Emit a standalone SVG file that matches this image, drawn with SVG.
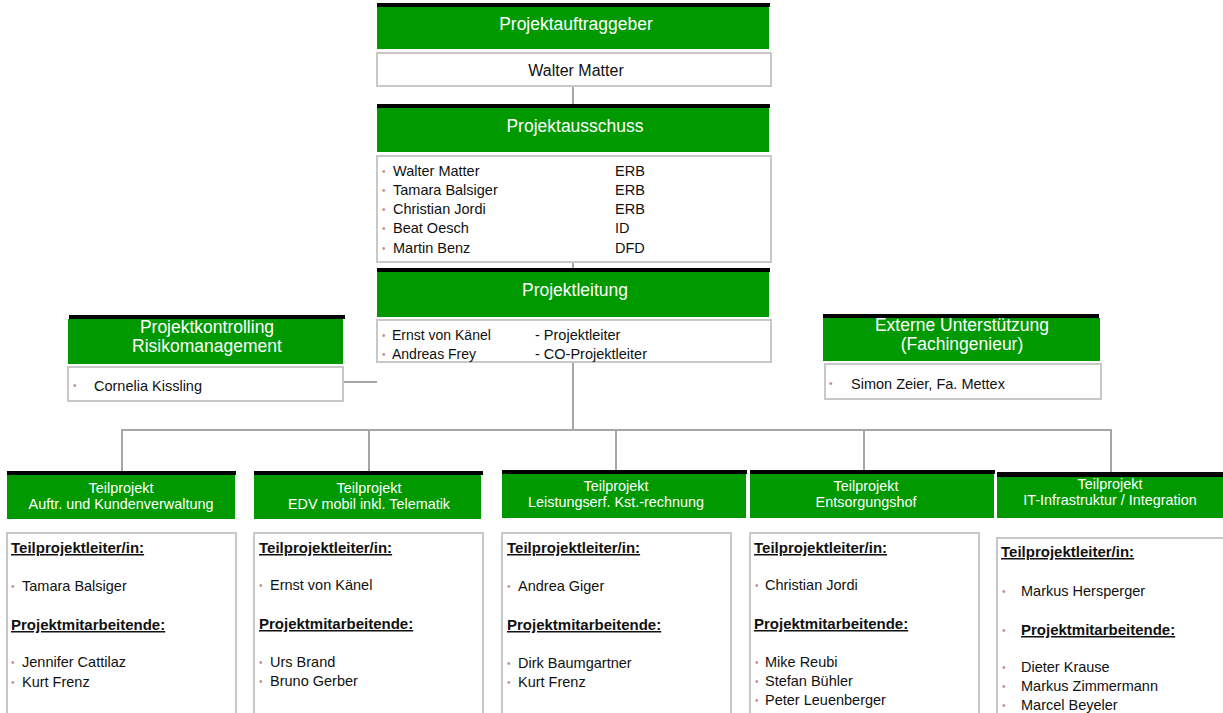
<svg xmlns="http://www.w3.org/2000/svg" width="1223" height="713" viewBox="0 0 1223 713">
<style>
.bar{fill:#000}
.hd{fill:#009900}
.bx{fill:#fff;stroke:#c8c8c8;stroke-width:2}
.ht{font-family:"Liberation Sans",Arial,sans-serif;font-size:17.5px;fill:#fff;text-anchor:middle}
.st{font-family:"Liberation Sans",Arial,sans-serif;font-size:14.4px;fill:#fff;text-anchor:middle}
.t{font-family:"Liberation Sans",Arial,sans-serif;font-size:14.5px;fill:#111}
.b{font-family:"Liberation Sans",Arial,sans-serif;font-size:15px;font-weight:bold;fill:#111;text-decoration:underline}
.bu{font-family:"Liberation Sans",Arial,sans-serif;font-size:10px;fill:#c09090}
.c{fill:none;stroke:#a6a6a6;stroke-width:2}
</style>
<g id="connectors">
<line class="c" x1="573" y1="86" x2="573" y2="104"/>
<line class="c" x1="573" y1="262" x2="573" y2="268"/>
<line class="c" x1="573" y1="362" x2="573" y2="430"/>
<line class="c" x1="343" y1="382" x2="377" y2="382"/>
<polyline class="c" points="122,471 122,430 1111,430 1111,475"/>
<line class="c" x1="369" y1="430" x2="369" y2="471"/>
<line class="c" x1="616" y1="430" x2="616" y2="471"/>
<line class="c" x1="864" y1="430" x2="864" y2="471"/>
</g>
<g id="auftraggeber">
<rect class="bar" x="377" y="3" width="393" height="4"/>
<rect class="hd" x="377" y="7" width="392" height="42"/>
<text class="ht" x="576" y="30">Projektauftraggeber</text>
<rect class="bx" x="377" y="53" width="394" height="33"/>
<text class="t" x="576" y="76" text-anchor="middle" style="font-size:16px">Walter Matter</text>
</g>
<g id="ausschuss">
<rect class="bar" x="377" y="104" width="393" height="4"/>
<rect class="hd" x="377" y="108" width="392" height="44"/>
<text class="ht" x="575" y="132">Projektausschuss</text>
<rect class="bx" x="377" y="156" width="394" height="106"/>
<text class="bu" x="382" y="175">•</text><text class="t" x="393" y="176">Walter Matter</text><text class="t" x="615" y="176">ERB</text>
<text class="bu" x="382" y="194">•</text><text class="t" x="393" y="195">Tamara Balsiger</text><text class="t" x="615" y="195">ERB</text>
<text class="bu" x="382" y="213">•</text><text class="t" x="393" y="214">Christian Jordi</text><text class="t" x="615" y="214">ERB</text>
<text class="bu" x="382" y="232">•</text><text class="t" x="393" y="233">Beat Oesch</text><text class="t" x="615" y="233">ID</text>
<text class="bu" x="382" y="252">•</text><text class="t" x="393" y="253">Martin Benz</text><text class="t" x="615" y="253">DFD</text>
</g>
<g id="projektleitung">
<rect class="bar" x="377" y="268" width="393" height="4"/>
<rect class="hd" x="377" y="272" width="392" height="45"/>
<text class="ht" x="575" y="296">Projektleitung</text>
<rect class="bx" x="377" y="320" width="394" height="42"/>
<text class="bu" x="382" y="339">•</text><text class="t" x="392" y="340" style="font-size:14px">Ernst von Känel</text><text class="t" x="535" y="340">- Projektleiter</text>
<text class="bu" x="382" y="358">•</text><text class="t" x="392" y="359" style="font-size:14px">Andreas Frey</text><text class="t" x="535" y="359">- CO-Projektleiter</text>
</g>
<g id="kontrolling">
<rect class="bar" x="69" y="315" width="276" height="4"/>
<rect class="hd" x="68" y="319" width="275" height="45"/>
<text class="ht" x="207" y="333">Projektkontrolling</text>
<text class="ht" x="207" y="352">Risikomanagement</text>
<rect class="bx" x="68" y="367" width="275" height="34"/>
<text class="bu" x="73" y="389">•</text><text class="t" x="94" y="391">Cornelia Kissling</text>
</g>
<g id="extern">
<rect class="bar" x="823" y="314" width="276" height="4"/>
<rect class="hd" x="823" y="318" width="277" height="43"/>
<text class="ht" x="962" y="331">Externe Unterstützung</text>
<text class="ht" x="962" y="350">(Fachingenieur)</text>
<rect class="bx" x="825" y="364" width="276" height="35"/>
<text class="bu" x="829" y="387">•</text><text class="t" x="851" y="389">Simon Zeier, Fa. Mettex</text>
</g>
<g id="tp1">
<rect class="bar" x="7" y="471" width="229" height="4"/>
<rect class="hd" x="7" y="475" width="228" height="44"/>
<text class="st" x="121" y="493">Teilprojekt</text>
<text class="st" x="121" y="509">Auftr. und Kundenverwaltung</text>
<rect class="bx" x="7" y="533" width="229" height="182"/>
<text class="b" x="11" y="553">Teilprojektleiter/in:</text>
<text class="bu" x="11" y="590">•</text><text class="t" x="22" y="591">Tamara Balsiger</text>
<text class="b" x="11" y="630">Projektmitarbeitende:</text>
<text class="bu" x="11" y="666">•</text><text class="t" x="22" y="667">Jennifer Cattilaz</text>
<text class="bu" x="11" y="686">•</text><text class="t" x="22" y="687">Kurt Frenz</text>
</g>
<g id="tp2">
<rect class="bar" x="254" y="471" width="229" height="4"/>
<rect class="hd" x="254" y="475" width="227" height="44"/>
<text class="st" x="369" y="493">Teilprojekt</text>
<text class="st" x="369" y="509">EDV mobil inkl. Telematik</text>
<rect class="bx" x="254" y="533" width="229" height="182"/>
<text class="b" x="259" y="553">Teilprojektleiter/in:</text>
<text class="bu" x="259" y="589">•</text><text class="t" x="270" y="590">Ernst von Känel</text>
<text class="b" x="259" y="629">Projektmitarbeitende:</text>
<text class="bu" x="259" y="666">•</text><text class="t" x="270" y="667">Urs Brand</text>
<text class="bu" x="259" y="685">•</text><text class="t" x="270" y="686">Bruno Gerber</text>
</g>
<g id="tp3">
<rect class="bar" x="502" y="470" width="245" height="4"/>
<rect class="hd" x="502" y="474" width="244" height="44"/>
<text class="st" x="616" y="491">Teilprojekt</text>
<text class="st" x="616" y="507">Leistungserf. Kst.-rechnung</text>
<rect class="bx" x="502" y="533" width="229" height="182"/>
<text class="b" x="507" y="553">Teilprojektleiter/in:</text>
<text class="bu" x="507" y="590">•</text><text class="t" x="518" y="591">Andrea Giger</text>
<text class="b" x="507" y="630">Projektmitarbeitende:</text>
<text class="bu" x="507" y="667">•</text><text class="t" x="518" y="668">Dirk Baumgartner</text>
<text class="bu" x="507" y="686">•</text><text class="t" x="518" y="687">Kurt Frenz</text>
</g>
<g id="tp4">
<rect class="bar" x="750" y="470" width="245" height="4"/>
<rect class="hd" x="750" y="474" width="244" height="44"/>
<text class="st" x="866" y="491">Teilprojekt</text>
<text class="st" x="866" y="507">Entsorgungshof</text>
<rect class="bx" x="750" y="533" width="229" height="182"/>
<text class="b" x="754" y="553">Teilprojektleiter/in:</text>
<text class="bu" x="755" y="589">•</text><text class="t" x="765" y="590">Christian Jordi</text>
<text class="b" x="754" y="629">Projektmitarbeitende:</text>
<text class="bu" x="755" y="666">•</text><text class="t" x="765" y="667">Mike Reubi</text>
<text class="bu" x="755" y="685">•</text><text class="t" x="765" y="686">Stefan Bühler</text>
<text class="bu" x="755" y="704">•</text><text class="t" x="765" y="705">Peter Leuenberger</text>
</g>
<g id="tp5">
<rect class="bar" x="997" y="472" width="226" height="5"/>
<rect class="hd" x="997" y="477" width="226" height="41"/>
<text class="st" x="1110" y="489">Teilprojekt</text>
<text class="st" x="1110" y="505">IT-Infrastruktur / Integration</text>
<rect class="bx" x="997" y="538" width="227" height="177"/>
<text class="b" x="1001" y="557">Teilprojektleiter/in:</text>
<text class="bu" x="1002" y="595">•</text><text class="t" x="1021" y="596">Markus Hersperger</text>
<text class="bu" x="1002" y="634">•</text><text class="b" x="1021" y="635">Projektmitarbeitende:</text>
<text class="bu" x="1002" y="671">•</text><text class="t" x="1021" y="672">Dieter Krause</text>
<text class="bu" x="1002" y="690">•</text><text class="t" x="1021" y="691">Markus Zimmermann</text>
<text class="bu" x="1002" y="709">•</text><text class="t" x="1021" y="710">Marcel Beyeler</text>
</g>
</svg>
